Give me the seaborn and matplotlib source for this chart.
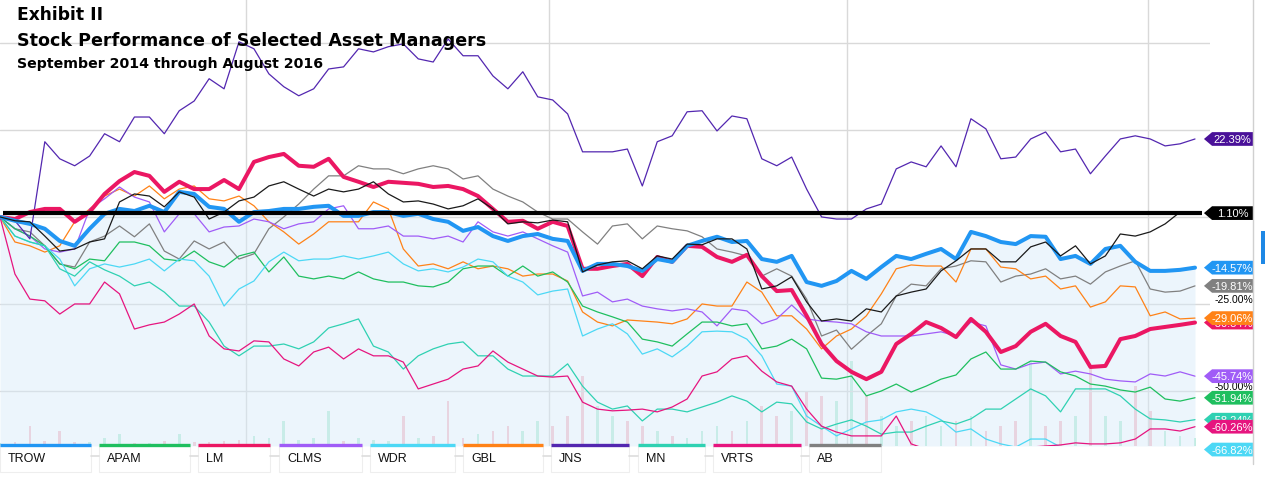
import numpy as np
import pandas as pd
import seaborn as sns
import matplotlib.pyplot as plt
from matplotlib.patches import Polygon, Rectangle
from matplotlib.lines import Line2D

# ---------------------------------------------------------------
# 1. DATA  (cumulative % price change, one sample every ~9 days)
# ---------------------------------------------------------------
trow = [0.0, -1.1, -2.0, -3.4, -6.9, -8.3, -3.4, 0.9, 2.3, 1.7,
        3.2, 1.4, 7.2, 6.6, 2.9, 2.3, -1.4, 1.4, 1.7, 2.3,
        2.3, 2.9, 3.2, 0.3, 0.3, 1.4, 1.4, 0.3, 0.9, -0.6,
        -1.4, -4.0, -2.9, -5.5, -6.9, -5.5, -4.9, -6.3, -6.9, -15.5,
        -13.5, -13.5, -14.1, -15.5, -12.1, -12.9, -8.3, -6.9, -5.7, -7.2,
        -6.9, -12.1, -12.9, -11.2, -18.7, -19.8, -18.4, -15.5, -17.8, -14.4,
        -11.2, -12.1, -10.6, -9.2, -12.1, -4.3, -5.5, -7.2, -7.8, -5.5,
        -5.7, -12.1, -11.2, -13.5, -9.2, -8.3, -12.9, -15.5, -15.5, -15.2,
        -14.57]

jns = [0.0, -1.1, -6.3, 21.6, 16.7, 14.7, 17.5, 23.9, 21.6, 28.7,
       28.7, 23.9, 30.5, 33.3, 39.7, 36.8, 50.3, 48.3, 41.1, 37.4,
       34.8, 36.8, 42.5, 43.1, 48.3, 47.4, 48.9, 49.7, 45.4, 44.5,
       51.1, 46.3, 46.3, 40.5, 36.8, 41.7, 34.5, 33.6, 29.6, 18.7,
       18.7, 18.7, 19.5, 8.9, 21.6, 23.3, 30.2, 30.5, 24.7, 29.0,
       28.2, 16.7, 14.7, 17.2, 8.0, 0.0, -0.6, -0.6, 2.3, 3.7,
       13.8, 15.8, 14.4, 20.4, 14.4, 28.2, 25.3, 16.7, 17.2, 22.4,
       24.4, 18.7, 19.5, 12.4, 17.5, 22.4, 23.3, 22.4, 20.4, 21.0,
       22.39]

lm = [0.0, -0.6, 1.4, 2.3, 2.3, -1.4, 1.4, 6.6, 10.3, 12.9,
      11.8, 7.2, 10.1, 8.0, 8.0, 10.6, 8.0, 15.8, 17.2, 18.1,
      14.7, 14.4, 16.7, 11.5, 10.1, 8.6, 10.1, 9.8, 9.5, 8.6,
      8.9, 8.0, 6.0, 2.3, -1.4, -1.1, -3.4, -1.4, -2.6, -14.9,
      -14.9, -14.1, -13.5, -17.0, -11.5, -12.9, -8.3, -8.6, -11.5, -12.9,
      -10.9, -17.0, -21.3, -21.0, -28.4, -36.5, -41.4, -44.5, -46.6, -44.5,
      -36.5, -33.6, -30.2, -31.9, -34.5, -29.3, -33.0, -38.8, -37.1, -33.0,
      -30.7, -34.2, -35.9, -43.1, -42.8, -35.1, -34.2, -32.2, -31.6, -31.0,
      -30.34]

ab = [0.0, -3.4, -4.3, -8.3, -13.5, -14.4, -7.2, -5.5, -2.6, -5.7,
      -2.0, -9.8, -12.1, -6.9, -9.2, -7.2, -12.1, -10.6, -3.4, 0.0,
      3.7, 8.0, 11.8, 11.8, 14.7, 13.8, 13.8, 12.4, 13.8, 14.7,
      13.8, 10.9, 11.8, 8.0, 6.0, 4.3, 1.4, -0.6, -0.6, -4.3,
      -7.8, -2.6, -2.0, -6.3, -2.6, -3.4, -4.0, -5.7, -9.2, -10.1,
      -11.2, -17.0, -14.9, -17.0, -23.6, -34.2, -32.5, -38.0, -34.2, -30.7,
      -22.7, -19.3, -19.8, -14.9, -14.1, -12.6, -12.9, -18.7, -17.0, -16.4,
      -14.9, -17.8, -17.0, -19.3, -15.8, -14.1, -12.6, -20.7, -21.6, -21.3,
      -19.81]

index_line = [0.0, -1.1, -1.4, -5.5, -9.8, -9.2, -7.2, -6.3, 4.3, 6.6,
              6.0, 2.9, 7.2, 5.7, -0.6, 1.4, 4.6, 5.7, 8.9, 10.1,
              8.0, 6.0, 8.0, 7.2, 8.0, 10.1, 6.6, 4.3, 4.6, 3.7,
              2.3, 3.2, 5.2, 2.3, -2.0, -1.4, -1.7, -0.9, -1.4, -15.8,
              -13.8, -12.9, -12.6, -14.9, -11.2, -12.1, -7.8, -8.0, -6.3, -6.3,
              -9.2, -20.7, -19.8, -17.2, -24.4, -29.9, -29.3, -29.9, -26.4, -27.3,
              -22.7, -21.6, -20.7, -15.5, -12.6, -9.2, -9.2, -12.9, -12.9, -8.6,
              -7.2, -11.2, -8.3, -13.5, -11.2, -4.9, -5.5, -4.3, -2.0, 1.4,
              1.10]

gbl = [0.0, -7.2, -8.3, -10.1, -8.3, -1.4, 2.3, 6.0, 8.0, 6.0,
       8.9, 5.2, 8.0, 8.9, 5.2, 4.6, 6.0, 3.2, -1.4, -4.3,
       -7.8, -4.9, -1.4, -1.4, -1.4, 4.3, 2.3, -9.2, -14.1, -13.5,
       -14.9, -12.9, -14.9, -14.1, -14.9, -17.0, -16.4, -16.4, -18.4, -27.3,
       -30.2, -31.3, -29.6, -29.9, -30.2, -30.7, -29.3, -25.0, -25.6, -25.6,
       -18.7, -21.6, -28.4, -28.4, -32.2, -37.9, -34.2, -32.2, -28.4, -22.1,
       -14.9, -13.8, -14.1, -14.1, -18.7, -9.2, -9.2, -14.4, -14.9, -17.8,
       -17.0, -20.7, -19.8, -25.9, -24.4, -19.8, -20.1, -28.4, -27.3, -29.3,
       -29.06]

clms = [0.0, -3.4, -5.5, -9.2, -10.1, -9.2, 2.3, 5.2, 8.6, 5.7,
        4.3, -4.3, 0.9, 0.9, -4.3, -2.9, -2.6, -0.6, -1.4, -3.4,
        -2.0, -1.4, 2.3, 3.2, -3.4, -3.4, -2.6, -5.5, -5.5, -6.3,
        -5.5, -7.2, -1.4, -4.3, -5.5, -4.3, -6.3, -8.3, -10.1, -22.7,
        -21.6, -24.4, -23.6, -25.6, -26.4, -27.0, -26.4, -27.3, -31.3, -26.4,
        -27.0, -30.7, -29.3, -25.3, -29.3, -29.9, -30.2, -30.7, -33.0, -34.2,
        -34.2, -34.2, -33.6, -33.0, -34.2, -30.2, -31.3, -42.5, -43.7, -42.2,
        -41.7, -45.1, -44.3, -45.1, -46.6, -47.1, -47.4, -45.1, -45.7, -44.5,
        -45.74]

apam = [0.0, -3.4, -5.5, -8.3, -13.5, -14.9, -12.1, -12.6, -7.2, -7.2,
        -8.3, -12.1, -12.6, -9.8, -12.9, -14.4, -11.2, -10.1, -15.8, -11.5,
        -17.0, -17.8, -17.0, -17.8, -15.8, -17.8, -18.7, -18.7, -19.8, -20.1,
        -18.7, -14.9, -14.1, -14.1, -17.0, -14.1, -17.0, -15.8, -18.7, -25.6,
        -27.3, -28.7, -30.2, -35.1, -35.9, -37.1, -33.6, -30.2, -30.2, -31.3,
        -30.7, -37.9, -37.1, -35.1, -37.9, -46.3, -46.6, -45.7, -51.4, -50.0,
        -48.0, -50.3, -48.6, -46.6, -45.4, -40.8, -38.8, -43.7, -43.7, -41.4,
        -41.7, -44.5, -45.7, -48.0, -48.6, -49.7, -50.3, -48.9, -52.3, -52.9,
        -51.94]

wdr = [0.0, -5.5, -7.2, -8.3, -12.1, -19.8, -14.9, -13.5, -14.4, -13.5,
       -12.1, -15.5, -12.1, -12.6, -17.0, -25.6, -20.7, -18.4, -12.9, -10.1,
       -12.6, -12.1, -12.1, -11.2, -12.1, -11.2, -10.1, -13.5, -15.5, -14.9,
       -15.8, -14.4, -12.1, -12.9, -17.0, -18.7, -22.4, -21.3, -20.7, -34.2,
       -32.2, -30.7, -33.6, -39.4, -37.9, -40.2, -37.1, -33.0, -32.8, -33.0,
       -35.1, -39.9, -48.0, -48.6, -57.2, -60.1, -62.9, -60.9, -58.9, -58.3,
       -56.0, -55.2, -56.0, -58.3, -61.8, -60.9, -63.8, -65.2, -66.1, -63.8,
       -63.8, -66.1, -66.7, -67.2, -67.2, -66.7, -67.0, -67.2, -67.0, -67.0,
       -66.82]

mn = [0.0, -5.5, -7.2, -8.3, -14.9, -17.0, -12.9, -15.2, -17.0, -19.8,
      -18.7, -21.6, -25.6, -25.6, -30.2, -37.1, -39.9, -37.1, -37.1, -36.5,
      -37.9, -35.9, -31.9, -30.7, -29.3, -37.1, -38.8, -43.7, -39.9, -37.9,
      -36.5, -35.9, -39.9, -39.9, -43.7, -45.7, -45.7, -45.7, -42.2, -48.6,
      -53.2, -55.2, -54.3, -58.6, -55.2, -55.2, -56.0, -54.6, -53.2, -51.4,
      -52.9, -56.0, -53.2, -53.7, -58.9, -60.9, -59.5, -58.3, -60.1, -62.4,
      -61.8, -61.8, -60.1, -58.6, -59.5, -58.0, -55.2, -55.2, -52.3, -49.4,
      -51.4, -56.0, -49.4, -49.4, -49.4, -51.4, -55.2, -58.0, -58.3, -58.9,
      -58.24]

vrts = [0.0, -16.4, -23.6, -24.1, -27.9, -25.0, -25.0, -18.7, -22.1, -32.2,
        -31.0, -30.2, -27.9, -25.0, -34.2, -37.9, -38.5, -35.6, -35.9, -40.8,
        -42.8, -38.8, -37.4, -40.8, -37.9, -39.9, -39.9, -41.7, -49.4, -48.0,
        -46.6, -43.7, -42.8, -38.5, -41.7, -43.7, -45.7, -46.0, -45.7, -53.2,
        -55.2, -55.7, -55.5, -55.2, -56.0, -54.6, -52.3, -45.7, -44.5, -40.8,
        -39.9, -44.3, -47.4, -48.6, -55.2, -60.1, -61.8, -62.9, -62.9, -62.9,
        -57.2, -65.2, -66.7, -67.2, -67.5, -67.2, -67.2, -66.7, -66.1, -66.1,
        -65.8, -65.5, -64.9, -65.2, -65.2, -64.9, -63.8, -60.9, -60.9, -61.5,
        -60.26]

# TROW volume (arbitrary units) shown as faint bars at the bottom
volume = [3, 4, 20, 5, 15, 4, 4, 8, 12, 3,
          3, 5, 12, 4, 4, 5, 6, 10, 8, 25,
          6, 8, 35, 5, 8, 6, 5, 30, 8, 10,
          45, 8, 12, 15, 20, 15, 25, 20, 30, 70,
          40, 30, 25, 20, 15, 10, 8, 15, 20, 15,
          25, 40, 30, 35, 55, 50, 45, 85, 50, 30,
          20, 25, 30, 20, 25, 30, 15, 20, 25, 85,
          20, 25, 30, 80, 30, 25, 60, 35, 15, 10,
          8]

reference_level = 1.10          # thick black horizontal line
month_marks = [16.5, 36.75, 56.7, 76.85]   # vertical gridlines (Jan / Jul)
grid_levels = [-50, -25, 0, 25, 50]

tickers = ['TROW', 'APAM', 'LM', 'CLMS', 'WDR', 'GBL', 'JNS', 'MN', 'VRTS', 'AB']
colors = {'TROW': '#2196f3', 'APAM': '#1fbf5f', 'LM': '#eb1763', 'CLMS': '#a05cf7',
          'WDR': '#4cd8f5', 'GBL': '#ff8217', 'JNS': '#5327b0', 'MN': '#2fd1b2',
          'VRTS': '#e6157f', 'AB': '#808080'}
tag_colors = dict(colors, JNS='#4a1199')
index_color = '#1a1a1a'

days = np.arange(len(trow))
wide = pd.DataFrame({'day': days, 'TROW': trow, 'APAM': apam, 'LM': lm, 'CLMS': clms,
                     'WDR': wdr, 'GBL': gbl, 'JNS': jns, 'MN': mn, 'VRTS': vrts, 'AB': ab})
long = wide.melt(id_vars='day', var_name='ticker', value_name='pct')

# ---------------------------------------------------------------
# 2. FIGURE
# ---------------------------------------------------------------
sns.set_style('white')
plt.rcParams['font.family'] = ['DejaVu Sans']
plt.rcParams['text.color'] = 'black'

W, H = 1265, 481
fig = plt.figure(figsize=(W / 100, H / 100), dpi=100)
ax = fig.add_axes([0, 1 - 447 / H, 1210 / W, 447 / H])
ax2 = ax.twinx()
ax.set_zorder(ax2.get_zorder() + 1)
ax.patch.set_visible(False)

px_per_day = 1195 / (len(days) - 1)
ax.set_xlim(0, 1210 / px_per_day)
ax.set_ylim(-65.8, 62.6)

# volume bars behind everything
chg = np.diff(np.array(trow), prepend=0)
bar_cols = ['#f7c3cd' if c < 0 else '#bdeedb' for c in chg]
ax2.bar(days, volume, width=0.18, color=bar_cols, linewidth=0)
ax2.set_ylim(0, 447)
ax2.set_axis_off()

# grid
ax.set_yticks(grid_levels)
ax.set_xticks(month_marks)
ax.grid(True, color='#d9d9d9', linewidth=1)
ax.set_axisbelow(True)
ax.tick_params(length=0, labelleft=False, labelbottom=False, labelright=False)
for s in ax.spines.values():
    s.set_visible(False)

# light area under TROW
ax.fill_between(days, trow, -65.8, color='#d6eaf9', alpha=0.45, linewidth=0, zorder=0.8)

thin = ['AB', 'GBL', 'CLMS', 'APAM', 'WDR', 'MN', 'VRTS', 'JNS']
sns.lineplot(data=long[long['ticker'].isin(thin)], x='day', y='pct', hue='ticker',
             hue_order=thin, palette=colors, linewidth=0.9, legend=False,
             estimator=None, ax=ax)
sns.lineplot(x=days, y=lm, color=colors['LM'], linewidth=2.9, ax=ax)
sns.lineplot(x=days, y=trow, color=colors['TROW'], linewidth=2.9, ax=ax)
sns.lineplot(x=days, y=index_line, color=index_color, linewidth=0.9, ax=ax)
ax.hlines(reference_level, 0.2, days[-1] + 0.45, color='black', linewidth=3.0, zorder=5)
ax.set_xlabel('')
ax.set_ylabel('')

# ---------------------------------------------------------------
# 3. RIGHT-HAND LABELS
# ---------------------------------------------------------------
yt = ax.get_yaxis_transform()
for lvl in [-25, -50]:
    ax.text(1.0355, lvl, f'{lvl:.2f}%', transform=yt, ha='right', va='bottom',
            fontsize=7.5, family='Liberation Sans', color='black', clip_on=False, zorder=6)


def tag(value, color, z):
    h = 1.97
    pts = [(0.9950, value), (1.0017, value + h), (1.0355, value + h),
           (1.0355, value - h), (1.0017, value - h)]
    ax.add_patch(Polygon(pts, closed=True, transform=yt, facecolor=color,
                         edgecolor='none', clip_on=False, zorder=z))
    ax.text(1.0186, value, f'{value:.2f}%', transform=yt, ha='center', va='center',
            color='white', fontsize=8, family='Liberation Sans', clip_on=False, zorder=z + 0.1)


end_tags = [(jns[-1], tag_colors['JNS']), (reference_level, 'black'),
            (trow[-1], tag_colors['TROW']), (ab[-1], tag_colors['AB']),
            (lm[-1], tag_colors['LM']), (gbl[-1], tag_colors['GBL']),
            (clms[-1], tag_colors['CLMS']), (apam[-1], tag_colors['APAM']),
            (mn[-1], tag_colors['MN']), (vrts[-1], tag_colors['VRTS']),
            (wdr[-1], tag_colors['WDR'])]
for i, (v, c) in enumerate(end_tags):
    tag(v, c, 10 + i)

# ---------------------------------------------------------------
# 4. TITLES, LEGEND STRIP, FRAME BITS
# ---------------------------------------------------------------
def fx(x):
    return x / W


def fy(y):
    return 1 - y / H


fig.text(fx(17), fy(20), 'Exhibit II', fontsize=12.3, fontweight='bold',
         color='black', va='baseline')
fig.text(fx(17), fy(46), 'Stock Performance of Selected Asset Managers',
         fontsize=12.6, fontweight='bold', color='black', va='baseline')
fig.text(fx(17), fy(68), 'September 2014 through August 2016',
         fontsize=10.2, fontweight='bold', color='black', va='baseline')

legend_spans = [(0, 91), (99, 190), (198, 270), (279, 362), (370, 455),
                (463, 543), (551, 629), (638, 705), (713, 801), (809, 881)]
for (x0, x1), (n0, n1) in zip(legend_spans[:-1], legend_spans[1:]):
    fig.add_artist(Line2D([fx(x1), fx(n0)], [fy(457), fy(457)], color='#dddddd',
                          linewidth=1.2, transform=fig.transFigure))
for name, (x0, x1) in zip(tickers, legend_spans):
    fig.add_artist(Rectangle((fx(x0), fy(473)), fx(x1 - x0), 27 / H, transform=fig.transFigure,
                             facecolor='white', edgecolor='#eeeeee', linewidth=0.8))
    fig.add_artist(Line2D([fx(x0), fx(x1)], [fy(446), fy(446)], color=colors[name],
                          linewidth=2.4, solid_capstyle='butt', transform=fig.transFigure))
    fig.text(fx(x0 + 8), fy(459), name, fontsize=9, family='Liberation Sans',
             color='#111111', va='center', ha='left')

fig.add_artist(Line2D([fx(1253), fx(1253)], [fy(0), fy(465)], color='#d0d0d0',
                      linewidth=1, transform=fig.transFigure))
fig.add_artist(Rectangle((fx(1261), fy(265)), fx(4), 33 / H, transform=fig.transFigure,
                         facecolor='#1e88e5', edgecolor='none'))

fig.savefig('out.png', dpi=100)
